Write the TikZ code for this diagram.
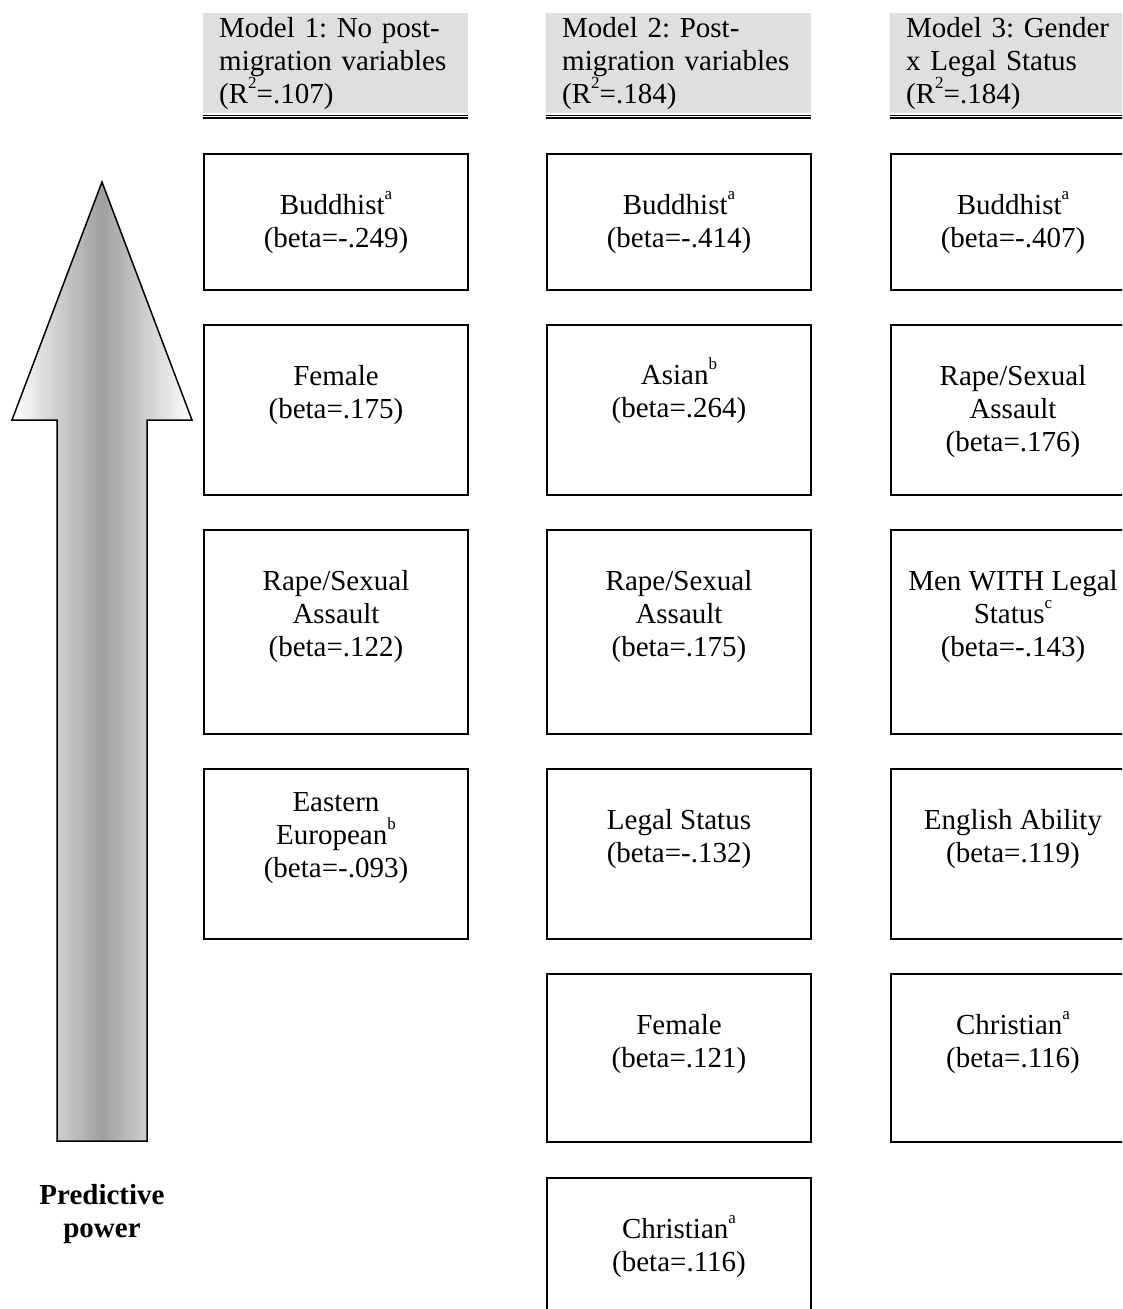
\documentclass[tikz,border=0pt]{standalone}
\usepackage{fontspec}
\setmainfont{Liberation Serif}
\usetikzlibrary{positioning}
\definecolor{hdgray}{gray}{0.875}
\newcommand{\fnm}[1]{\smash{\raisebox{0.5em}{\fontsize{17}{17}\selectfont #1}}}
\frenchspacing

\begin{document}
\begin{tikzpicture}[x=1pt,y=-1pt,
  every node/.style={font=\fontsize{29}{33}\selectfont},
  hdnode/.style={fill=hdgray,anchor=north west,text width=233pt,inner xsep=16pt,inner ysep=0pt,minimum height=100pt,align=left},
  vbox/.style={draw,line width=2pt,anchor=north,minimum width=264pt,inner sep=0pt},
  vtext/.style={anchor=north,align=center,inner sep=0pt}
]
\path[use as bounding box,clip] (0,0) rectangle (1122,1309);

% the arrow
\draw[line width=1.5pt,line join=miter,left color=white,right color=white,middle color=gray!75]
  (102,182) -- (192,420) -- (147,420) -- (147,1141) -- (57,1141) -- (57,420) -- (12,420) -- cycle;
\node[font=\fontsize{29}{33}\selectfont\bfseries,align=center] (pp) at (102,1214) {Predictive\\power};

% the headers
\node[hdnode] (h1) at (203,13) {Model 1: No post-\\migration variables\\(R\fnm{2}=.107)};
\node[hdnode] (h2) at (546,13) {Model 2: Post-\\migration variables\\(R\fnm{2}=.184)};
\node[hdnode] (h3) at (890,13) {Model 3: Gender\\x Legal Status\\(R\fnm{2}=.184)};
\foreach \h in {h1,h2,h3} {
  \draw[line width=1.3pt] ([yshift=-1.8pt]\h.south west) -- ([yshift=-1.8pt]\h.south east);
  \draw[line width=2pt] ([yshift=-4.6pt]\h.south west) -- ([yshift=-4.6pt]\h.south east);
}

% Model 1
\begin{scope}[xshift=336pt]
\foreach \i/\tp/\hh/\off/\txt in {
  1/153/136/41/{Buddhist\fnm{a}\\(beta=-.249)},
  2/324/170/41/{Female\\(beta=.175)},
  3/529/204/41/{Rape/Sexual\\Assault\\(beta=.122)},
  4/768/170/24/{Eastern\\European\fnm{b}\\(beta=-.093)}} {
  \node[vbox,minimum height=\hh pt] (m1b\i) at (0,\tp) {};
  \node[vtext] (m1t\i) at ([yshift=-\off pt]m1b\i.north) {\txt};
}
\end{scope}

% Model 2
\begin{scope}[xshift=679pt]
\foreach \i/\tp/\hh/\off/\txt in {
  1/153/136/41/{Buddhist\fnm{a}\\(beta=-.414)},
  2/324/170/41/{Asian\fnm{b}\\(beta=.264)},
  3/529/204/41/{Rape/Sexual\\Assault\\(beta=.175)},
  4/768/170/41/{Legal Status\\(beta=-.132)},
  5/973/168/41/{Female\\(beta=.121)},
  6/1177/170/41/{Christian\fnm{a}\\(beta=.116)}} {
  \node[vbox,minimum height=\hh pt] (m2b\i) at (0,\tp) {};
  \node[vtext] (m2t\i) at ([yshift=-\off pt]m2b\i.north) {\txt};
}
\end{scope}

% Model 3
\begin{scope}[xshift=1013pt,vbox/.append style={minimum width=244pt}]
\foreach \i/\tp/\hh/\off/\txt in {
  1/153/136/41/{Buddhist\fnm{a}\\(beta=-.407)},
  2/324/170/41/{Rape/Sexual\\Assault\\(beta=.176)},
  3/529/204/41/{Men WITH Legal\\Status\fnm{c}\\(beta=-.143)},
  4/768/170/41/{English Ability\\(beta=.119)},
  5/973/168/41/{Christian\fnm{a}\\(beta=.116)}} {
  \node[vbox,minimum height=\hh pt] (m3b\i) at (0,\tp) {};
  \node[vtext] (m3t\i) at ([yshift=-\off pt]m3b\i.north) {\txt};
}
\end{scope}

\end{tikzpicture}
\end{document}
